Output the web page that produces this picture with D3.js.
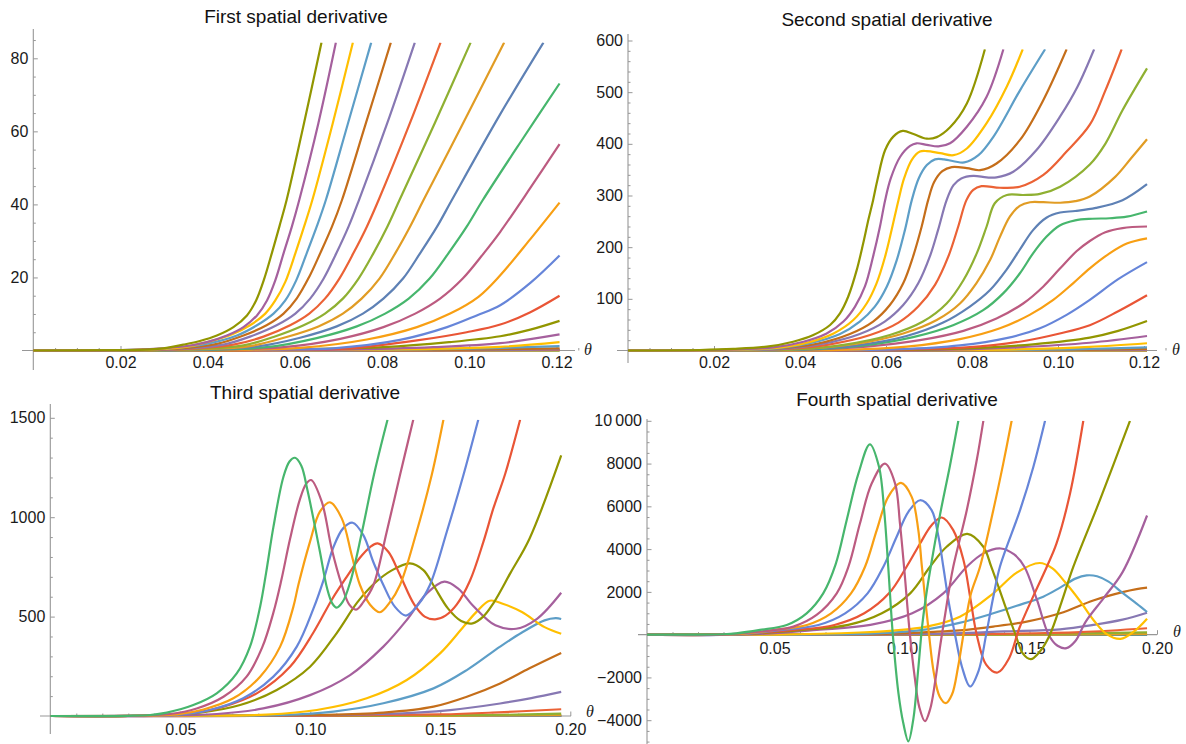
<!DOCTYPE html>
<html><head><meta charset="utf-8">
<script src="https://cdn.jsdelivr.net/npm/d3@7"></script>
<style>
html,body{margin:0;padding:0;background:#fff;}
svg{display:block;font-family:"Liberation Sans",Arial,sans-serif;}
</style></head><body>
<svg id="chart" width="1186" height="744"></svg>
<script>
// ---------------- DATA ----------------
const titles = ["First spatial derivative","Second spatial derivative","Third spatial derivative","Fourth spatial derivative"];

const p1XTicks = [0.02,0.04,0.06,0.08,0.10,0.12];
const p1YTicks = [20,40,60,80];
const p2XTicks = [0.02,0.04,0.06,0.08,0.10,0.12];
const p2YTicks = [100,200,300,400,500,600];
const p3XTicks = [0.05,0.10,0.15,0.20];
const p3YTicks = [500,1000,1500];
const p4XTicks = [0.05,0.10,0.15,0.20];
const p4YTicks = [-4000,-2000,2000,4000,6000,8000,10000];

const p1Colors = ["#929600","#A5609D","#FFBF00","#5D9EC7","#C56E1A","#8778B3","#EB6235","#8FB032","#E19C24","#5E81B5","#47B66D","#BC5B80","#F89F13","#6685D9","#E95536","#929600","#A5609D","#FFBF00","#5D9EC7","#C56E1A","#8778B3","#EB6235","#8FB032","#E19C24","#5E81B5"];
const p2Colors = p1Colors.slice();
const p3Colors = ["#47B66D","#BC5B80","#F89F13","#6685D9","#E95536","#929600","#A5609D","#FFBF00","#5D9EC7","#C56E1A","#8778B3","#EB6235","#8FB032","#E19C24","#5E81B5","#47B66D","#BC5B80","#F89F13"];
const p4Colors = p3Colors.slice();

const p1Curves = [
 [[0,0],[0.02,0.1],[0.0268,0.3],[0.0298,0.6],[0.0344,1.6],[0.0382,2.6],[0.0421,4.1],[0.0459,6.4],[0.049,9.6],[0.0511,13.7],[0.0529,19.4],[0.0547,26.6],[0.0565,34.2],[0.0581,41.2],[0.0621,62.3],[0.0661,84.3]],
 [[0,0],[0.02,0.08],[0.0344,1.1],[0.0398,2.3],[0.0444,4.1],[0.0482,6.4],[0.0513,9.6],[0.0536,13.7],[0.0555,19.2],[0.0574,26.6],[0.0593,33.9],[0.061,41.2],[0.0654,62.3],[0.0694,84.3]],
 [[0,0],[0.02,0.07],[0.0344,0.9],[0.0405,2.5],[0.0459,4.6],[0.0497,6.9],[0.0532,10.1],[0.0555,13.7],[0.0578,18.8],[0.0601,26.6],[0.0621,33.9],[0.064,41.2],[0.0687,62.3],[0.0733,84.3]],
 [[0,0],[0.02,0.06],[0.033,0.7],[0.0405,2.0],[0.0467,4.1],[0.0513,6.9],[0.0551,10.1],[0.0578,13.7],[0.0603,19.2],[0.0627,26.6],[0.065,33.9],[0.0671,41.2],[0.0722,62.3],[0.0775,84.3]],
 [[0,0],[0.02,0.05],[0.034,0.6],[0.0421,1.8],[0.0482,4.1],[0.0535,6.9],[0.0574,10.1],[0.0604,14.2],[0.0633,20.2],[0.0658,26.6],[0.0685,33.9],[0.0708,41.2],[0.0763,62.3],[0.082,84.3]],
 [[0,0],[0.02,0.04],[0.035,0.5],[0.0436,1.6],[0.0497,3.8],[0.0558,6.9],[0.0601,10.1],[0.0635,14.2],[0.0666,19.7],[0.0695,26.6],[0.0723,33.9],[0.0747,41.2],[0.0812,62.3],[0.0875,84.3]],
 [[0,0],[0.02,0.03],[0.036,0.45],[0.0459,1.6],[0.0528,3.8],[0.0589,6.9],[0.0633,10.1],[0.0669,14.2],[0.0702,19.7],[0.0734,26.6],[0.0765,33.9],[0.0792,41.2],[0.0864,62.3],[0.0934,84.3]],
 [[0,0],[0.02,0.03],[0.037,0.4],[0.0482,1.4],[0.0551,3.7],[0.062,6.9],[0.0669,10.1],[0.071,14.2],[0.0746,19.7],[0.078,26.6],[0.0812,33.9],[0.084,41.2],[0.0921,62.3],[0.1003,84.3]],
 [[0,0],[0.02,0.02],[0.038,0.35],[0.0497,1.2],[0.0581,3.7],[0.0654,6.6],[0.071,10.1],[0.0753,14.2],[0.0794,19.7],[0.083,26.6],[0.0864,33.9],[0.0895,41.2],[0.0986,62.3],[0.108,84.3]],
 [[0,0],[0.02,0.02],[0.039,0.3],[0.0513,1.1],[0.0612,3.5],[0.0696,6.6],[0.0756,10.1],[0.0803,14.2],[0.0848,19.7],[0.0887,26.6],[0.0926,33.9],[0.096,41.2],[0.107,64.5],[0.117,84.3]],
 [[0,0],[0.02,0.01],[0.04,0.25],[0.0535,0.9],[0.065,3.4],[0.0742,6.6],[0.0807,10.1],[0.0861,14.2],[0.0909,19.7],[0.0952,26.6],[0.0994,33.9],[0.1031,41.2],[0.112,57.5],[0.1207,73.1]],
 [[0,0],[0.02,0.01],[0.045,0.3],[0.0574,0.9],[0.0704,3.2],[0.0803,6.4],[0.0876,10.1],[0.0933,14.2],[0.0985,19.7],[0.1033,26.6],[0.1071,32.5],[0.114,44.5],[0.1207,56.5]],
 [[0,0],[0.02,0.01],[0.05,0.25],[0.0612,0.7],[0.0765,3.0],[0.088,6.4],[0.0956,10.1],[0.1021,14.7],[0.1071,20.6],[0.114,30.5],[0.1207,40.5]],
 [[0,0],[0.03,0.02],[0.055,0.25],[0.0688,0.6],[0.0841,2.9],[0.0949,6.4],[0.1017,9.6],[0.1071,12.4],[0.114,18.5],[0.1207,26]],
 [[0,0],[0.03,0.01],[0.06,0.2],[0.0727,0.6],[0.088,2.75],[0.0994,5.0],[0.1071,7.1],[0.114,10.5],[0.1207,15]],
 [[0,0],[0.04,0.02],[0.0803,0.9],[0.0956,2.3],[0.1071,3.9],[0.114,5.7],[0.1207,8.1]],
 [[0,0],[0.05,0.03],[0.07,0.2],[0.0918,0.9],[0.1071,2.0],[0.1207,4.4]],
 [[0,0],[0.06,0.03],[0.09,0.4],[0.1071,1.0],[0.1207,2.3]],
 [[0,0],[0.07,0.05],[0.1,0.5],[0.1207,1.2]],
 [[0,0],[0.08,0.05],[0.1,0.2],[0.1207,0.6]],
 [[0,0],[0.09,0.05],[0.1207,0.3]],
 [[0,0],[0.1,0.05],[0.1207,0.15]],
 [[0,0],[0.1207,0.06]],
 [[0,0],[0.1207,0.03]],
 [[0,0],[0.1207,0.01]]
];

const p2Curves = [
 [[0,0],[0.0167,1],[0.0245,3],[0.0323,7.5],[0.0384,17],[0.0431,30],[0.047,49.4],[0.0493,72],[0.0512,104],[0.0532,156],[0.0547,207.5],[0.0559,253],[0.057,291],[0.058,330],[0.0598,388],[0.0617,414],[0.0639,425],[0.0664,419],[0.0695,410],[0.0718,413],[0.0749,432],[0.0788,478],[0.083,583]],
 [[0,0],[0.02,1],[0.0338,6],[0.0408,17],[0.0462,33],[0.0501,56],[0.0528,85],[0.0551,124],[0.057,182],[0.0586,240],[0.0598,291],[0.0611,333],[0.0633,375],[0.0656,396],[0.0671,401],[0.0695,398],[0.0722,395],[0.0749,401],[0.0788,433],[0.0834,491],[0.0873,583]],
 [[0,0],[0.02,0.8],[0.0346,5],[0.0416,15],[0.0478,33],[0.0524,59],[0.0555,91],[0.0578,130],[0.0598,182],[0.0613,233],[0.0629,291],[0.0642,333],[0.066,369],[0.0679,385],[0.0695,386],[0.0726,382],[0.0757,378],[0.0788,391],[0.0834,440],[0.0881,511],[0.0918,583]],
 [[0,0],[0.02,0.7],[0.0346,4],[0.0423,14],[0.0493,32],[0.0539,56],[0.0574,85],[0.0602,124],[0.0625,175],[0.0644,233],[0.066,291],[0.0676,333],[0.0695,359],[0.0714,370],[0.0735,370],[0.0782,364],[0.0815,378],[0.085,414],[0.0912,504],[0.097,583]],
 [[0,0],[0.02,0.6],[0.0353,4],[0.0439,13],[0.0516,32],[0.057,56],[0.0609,88],[0.064,130],[0.0663,182],[0.0683,240],[0.0698,291],[0.0712,326],[0.0731,347],[0.0753,355],[0.0788,353],[0.0819,349],[0.0857,362],[0.0912,408],[0.0966,485],[0.102,583]],
 [[0,0],[0.02,0.5],[0.0361,3],[0.0454,13],[0.0539,32],[0.0597,56],[0.064,88],[0.0675,130],[0.0702,182],[0.0721,233],[0.0741,291],[0.0757,320],[0.0775,333],[0.0803,338],[0.0834,335],[0.0857,335],[0.0896,346],[0.095,388],[0.1005,453],[0.1045,510],[0.1084,583]],
 [[0,0],[0.02,0.4],[0.0369,3],[0.047,12],[0.0563,30],[0.0629,54],[0.0675,85],[0.0714,127],[0.0745,182],[0.0768,240],[0.0787,291],[0.0803,311],[0.0822,318],[0.0865,315],[0.0911,317],[0.0966,340],[0.102,385],[0.1074,437],[0.111,503],[0.1148,583]],
 [[0,0],[0.02,0.3],[0.0384,2],[0.0501,11],[0.0609,30],[0.0686,56],[0.0741,91],[0.078,136],[0.0811,188],[0.0834,240],[0.0853,285],[0.0881,301],[0.0919,301],[0.0958,303],[0.1005,317],[0.1074,360],[0.111,400],[0.115,465],[0.1207,546]],
 [[0,0],[0.02,0.2],[0.0408,3],[0.0532,13],[0.064,33],[0.0718,59],[0.0772,91],[0.081,130],[0.0842,175],[0.0865,220],[0.0888,259],[0.0911,280],[0.0935,287],[0.0966,287],[0.1005,286],[0.104,289],[0.1074,298],[0.1133,336],[0.117,372],[0.1207,409]],
 [[0,0],[0.02,0.15],[0.04,2],[0.0532,10],[0.0648,28],[0.0733,54],[0.0795,85],[0.0842,117],[0.088,156],[0.0911,195],[0.0942,233],[0.0973,257],[0.1005,267],[0.104,270],[0.1088,276],[0.115,291],[0.1207,322]],
 [[0,0],[0.02,0.1],[0.0415,2],[0.054,9],[0.0663,26],[0.0756,49],[0.0826,78],[0.0873,111],[0.0911,149],[0.0942,188],[0.0973,220],[0.1004,242],[0.104,252],[0.108,255],[0.112,256],[0.116,259],[0.1207,269]],
 [[0,0],[0.02,0.1],[0.0431,2],[0.0555,7.5],[0.0679,20],[0.078,38],[0.0857,62],[0.0919,91],[0.0966,124],[0.1004,158],[0.1043,192],[0.1074,212],[0.111,229],[0.115,237],[0.1207,240]],
 [[0,0],[0.03,0.2],[0.0493,1],[0.0648,7.5],[0.0772,22],[0.0865,43],[0.0934,69],[0.0989,98],[0.1035,130],[0.1074,159],[0.112,188],[0.116,207],[0.1207,217]],
 [[0,0],[0.04,0.2],[0.0632,2.5],[0.0772,10],[0.088,24],[0.0958,43],[0.102,69],[0.1074,98],[0.114,138],[0.1207,171]],
 [[0,0],[0.05,0.3],[0.0787,6],[0.0911,17],[0.1004,33],[0.1074,49],[0.114,76],[0.1207,107]],
 [[0,0],[0.06,0.5],[0.0787,4],[0.0942,12],[0.1074,25],[0.114,38],[0.1207,57]],
 [[0,0],[0.07,0.5],[0.0903,6],[0.1074,15],[0.1207,28]],
 [[0,0],[0.08,1],[0.095,3],[0.1074,7],[0.1207,14]],
 [[0,0],[0.09,1],[0.1074,3],[0.1207,6]],
 [[0,0],[0.1,0.8],[0.1207,3]],
 [[0,0],[0.1207,1.5]],
 [[0,0],[0.1207,0.7]],
 [[0,0],[0.1207,0.3]],
 [[0,0],[0.1207,0.1]],
 [[0,0],[0.1207,0.05]]
];

const p3Curves = [
 [[0,0],[0.03,1],[0.0384,5],[0.0448,17],[0.055,55],[0.064,114],[0.0717,214],[0.0768,349],[0.0807,550],[0.083,720],[0.0858,950],[0.0896,1200],[0.092,1280],[0.0941,1299],[0.0965,1260],[0.099,1130],[0.1035,840],[0.1065,640],[0.1085,565],[0.1101,545],[0.1125,575],[0.1155,680],[0.1197,915],[0.1245,1215],[0.1297,1490]],
 [[0,0],[0.03,0.5],[0.046,10],[0.0563,38],[0.0666,97],[0.0755,198],[0.0815,345],[0.0858,520],[0.0888,680],[0.0922,890],[0.096,1090],[0.0985,1170],[0.1003,1187],[0.1044,1078],[0.1082,843],[0.1121,659],[0.115,560],[0.1176,535],[0.1205,575],[0.1243,659],[0.1294,927],[0.1345,1212],[0.1396,1490]],
 [[0,0],[0.03,0.3],[0.0486,8],[0.0589,33],[0.0704,89],[0.0807,198],[0.0884,349],[0.0935,550],[0.0954,659],[0.0999,877],[0.1037,1028],[0.1076,1075],[0.1121,994],[0.1159,810],[0.1191,659],[0.123,560],[0.1268,522],[0.1305,570],[0.1345,659],[0.1409,927],[0.1467,1212],[0.1512,1490]],
 [[0,0],[0.03,0.2],[0.0499,7],[0.0614,30],[0.0742,89],[0.0858,198],[0.0948,349],[0.1012,540],[0.105,680],[0.1089,850],[0.1127,945],[0.1163,972],[0.1204,910],[0.1242,776],[0.1281,659],[0.1325,550],[0.1368,505],[0.1415,560],[0.146,659],[0.1525,927],[0.1589,1212],[0.1646,1490]],
 [[0,0],[0.03,0.1],[0.0537,13],[0.0666,47],[0.0794,114],[0.0922,248],[0.1012,420],[0.1085,590],[0.114,700],[0.119,795],[0.123,850],[0.1259,868],[0.13,826],[0.1345,709],[0.14,560],[0.144,500],[0.148,486],[0.152,505],[0.1563,560],[0.1614,680],[0.1666,877],[0.1704,1044],[0.175,1220],[0.1807,1490]],
 [[0,0],[0.03,0.1],[0.0576,17],[0.073,55],[0.0871,131],[0.0999,248],[0.1101,416],[0.118,570],[0.1245,665],[0.131,730],[0.1383,768],[0.1435,734],[0.1473,659],[0.153,540],[0.158,478],[0.1624,466],[0.1665,500],[0.1704,567],[0.177,720],[0.1843,892],[0.1965,1311]],
 [[0,0],[0.04,1],[0.064,10],[0.0819,38],[0.0999,105],[0.1153,206],[0.1281,349],[0.1371,483],[0.1448,617],[0.1516,676],[0.157,640],[0.1625,556],[0.1712,456],[0.1792,439],[0.1872,489],[0.1965,620]],
 [[0,0],[0.05,1],[0.0832,7],[0.1025,30],[0.1217,89],[0.1371,181],[0.1499,315],[0.1589,449],[0.164,525],[0.169,580],[0.174,565],[0.1814,523],[0.1901,447],[0.1965,414]],
 [[0,0],[0.06,1],[0.0896,5],[0.1089,22],[0.1281,64],[0.1474,139],[0.1602,231],[0.173,349],[0.1814,420],[0.1901,481],[0.1944,492],[0.1965,488]],
 [[0,0],[0.06,1],[0.1025,5],[0.1281,17],[0.1474,47],[0.1602,97],[0.173,164],[0.1843,240],[0.1965,317]],
 [[0,0],[0.08,1],[0.1281,10],[0.1538,30],[0.173,63],[0.185,90],[0.1965,121]],
 [[0,0],[0.1,1],[0.15,8],[0.17,17],[0.1965,34]],
 [[0,0],[0.12,1],[0.17,5],[0.1965,12]],
 [[0,0],[0.15,1],[0.1965,4]],
 [[0,0],[0.1965,1]],
 [[0,0],[0.1965,0.4]],
 [[0,0],[0.1965,0.2]],
 [[0,0],[0.1965,0.1]]
];

const p4Curves = [
 [[0,0],[0.03,20],[0.035,60],[0.0443,220],[0.0548,454],[0.0626,998],[0.0691,1931],[0.074,3300],[0.0783,5354],[0.0829,7530],[0.0874,8899],[0.091,7842],[0.093,5820],[0.0946,3177],[0.0964,0],[0.0986,-2734],[0.1005,-4134],[0.1025,-4989],[0.1045,-3900],[0.1063,-1700],[0.108,500],[0.1098,2100],[0.1116,3400],[0.1149,5600],[0.1188,7900],[0.1221,10000]],
 [[0,0],[0.03,5],[0.0469,174],[0.0574,376],[0.0665,920],[0.0744,1931],[0.079,3177],[0.0835,5198],[0.0881,7064],[0.0933,7997],[0.0973,7064],[0.0992,5198],[0.1008,3177],[0.1031,0],[0.105,-2000],[0.1068,-3400],[0.109,-4050],[0.111,-3500],[0.113,-2200],[0.115,-500],[0.117,1000],[0.1186,2200],[0.1201,3177],[0.1254,5820],[0.1293,8153],[0.1319,10000]],
 [[0,0],[0.035,20],[0.05,220],[0.0627,454],[0.0722,998],[0.08,1931],[0.0855,3177],[0.0901,4887],[0.0946,6442],[0.0996,7095],[0.1038,6442],[0.1064,4887],[0.1078,3177],[0.1106,0],[0.1125,-1800],[0.1148,-2900],[0.1172,-3201],[0.1196,-2800],[0.122,-1500],[0.1245,300],[0.127,1900],[0.1306,3177],[0.1358,5820],[0.1397,7997],[0.143,10000]],
 [[0,0],[0.035,10],[0.053,220],[0.0672,454],[0.0777,998],[0.0865,1931],[0.0927,3177],[0.0979,4576],[0.1025,5743],[0.1071,6286],[0.1116,5820],[0.1143,4576],[0.1162,3177],[0.1185,1400],[0.1208,0],[0.1235,-1500],[0.1267,-2423],[0.13,-1700],[0.133,0],[0.1357,1700],[0.1384,3177],[0.1463,5820],[0.1515,7842],[0.1561,10000]],
 [[0,0],[0.033,10],[0.0577,220],[0.0735,454],[0.0852,998],[0.0949,1931],[0.1018,3177],[0.1071,4265],[0.1116,5120],[0.1156,5478],[0.1201,4887],[0.1241,3487],[0.1268,1700],[0.1293,0],[0.133,-1400],[0.1375,-1770],[0.142,-1100],[0.146,300],[0.1515,1800],[0.1568,3177],[0.1606,4265],[0.1659,6598],[0.1711,10000]],
 [[0,0],[0.035,10],[0.061,220],[0.0789,454],[0.0921,998],[0.1032,1931],[0.111,3177],[0.1175,4110],[0.1256,4713],[0.1319,4110],[0.135,3177],[0.14,1500],[0.1445,0],[0.1475,-900],[0.1505,-1148],[0.154,-800],[0.158,0],[0.1625,1500],[0.1672,3177],[0.1776,6287],[0.1894,10000]],
 [[0,0],[0.04,10],[0.0666,220],[0.0876,454],[0.104,998],[0.1162,1931],[0.1254,3177],[0.1319,3800],[0.1387,4030],[0.144,3750],[0.148,3177],[0.153,1600],[0.1575,0],[0.161,-520],[0.1645,-630],[0.168,-300],[0.172,600],[0.179,1700],[0.1865,2925],[0.1961,5571]],
 [[0,0],[0.05,3],[0.0835,100],[0.0966,190],[0.1097,376],[0.1227,842],[0.1358,1931],[0.145,2900],[0.154,3350],[0.159,3100],[0.164,2450],[0.1698,1575],[0.175,700],[0.18,50],[0.1857,-200],[0.191,150],[0.1961,747]],
 [[0,0],[0.06,5],[0.09,60],[0.1097,250],[0.1225,550],[0.1358,998],[0.145,1350],[0.1554,1776],[0.162,2200],[0.168,2620],[0.1724,2772],[0.1765,2730],[0.181,2480],[0.1865,1950],[0.192,1450],[0.1961,1059]],
 [[0,0],[0.08,10],[0.1,60],[0.1097,120],[0.1227,200],[0.1358,376],[0.1489,609],[0.162,998],[0.175,1600],[0.1865,1990],[0.192,2130],[0.1961,2200]],
 [[0,0],[0.09,10],[0.12,60],[0.14,150],[0.162,250],[0.175,454],[0.1865,700],[0.1961,1027]],
 [[0,0],[0.1,10],[0.14,40],[0.17,120],[0.1961,300]],
 [[0,0],[0.14,10],[0.1961,110]],
 [[0,0],[0.16,5],[0.1961,40]],
 [[0,0],[0.1961,12]],
 [[0,0],[0.1961,4]],
 [[0,0],[0.1961,2]],
 [[0,0],[0.1961,1]]
];

// ---------------- DRAWING ----------------
const svg = d3.select("#chart");
const AXIS = "#979797", TEXT = "#1a1a1a";

function fmtP4(d){ if (d === 10000) return "10\u2009000"; return d < 0 ? "\u2212" + Math.abs(d) : String(d); }

const panels = [
 {title:titles[0], tx:296, ty:23, curves:p1Curves, colors:p1Colors,
  xDomain:[0,0.12], xRange:[33.3,556.5], yDomain:[0,80], yRange:[350.5,58.3],
  xTicks:p1XTicks, yTicks:p1YTicks, xMinorStep:0.005, yMinorStep:5, xMinorMax:0.125, yMinorMin:5, yMinorMax:85,
  xLine:[22,575], yLine:[29,370], clipTop:84.3, xEnd:0.1207, xFmt:d3.format(".2f"), yFmt:d3.format("d"), theta:[588,349], xPad:6},
 {title:titles[1], tx:887, ty:26, curves:p2Curves, colors:p2Colors,
  xDomain:[0,0.12], xRange:[628,1144], yDomain:[0,600], yRange:[350.5,40.5],
  xTicks:p2XTicks, yTicks:p2YTicks, xMinorStep:0.005, yMinorStep:20, xMinorMax:0.125, yMinorMin:20, yMinorMax:600,
  xLine:[617,1157], yLine:[34,363], clipTop:583, xEnd:0.1207, xFmt:d3.format(".2f"), yFmt:d3.format("d"), theta:[1176,349], xPad:6},
 {title:titles[2], tx:305, ty:399, curves:p3Curves, colors:p3Colors,
  xDomain:[0,0.2], xRange:[50.3,570.3], yDomain:[0,1500], yRange:[716,417.8],
  xTicks:p3XTicks, yTicks:p3YTicks, xMinorStep:0.01, yMinorStep:100, xMinorMax:0.2, yMinorMin:100, yMinorMax:1500,
  xLine:[40,571], yLine:[404,734], clipTop:1490, xEnd:0.1965, xFmt:d3.format(".2f"), yFmt:d3.format("d"), theta:[590,711], xPad:8},
 {title:titles[3], tx:897, ty:406, curves:p4Curves, colors:p4Colors,
  xDomain:[0,0.2], xRange:[647,1157], yDomain:[-4000,10000], yRange:[720.2,420.8],
  xTicks:p4XTicks, yTicks:p4YTicks, xMinorStep:0.01, yMinorStep:500, xMinorMax:0.2, yMinorMin:-5000, yMinorMax:10000,
  xLine:[638,1157], yLine:[419,744], clipTop:10000, xEnd:0.1961, xFmt:d3.format(".2f"), yFmt:fmtP4, theta:[1177,631], xPad:8}
];

panels.forEach((p, i) => {
  const x = d3.scaleLinear().domain(p.xDomain).range(p.xRange);
  const y = d3.scaleLinear().domain(p.yDomain).range(p.yRange);
  const g = svg.append("g");
  const y0 = y(0), x0 = x(0);

  g.append("line").attr("x1", p.xLine[0]).attr("x2", p.xLine[1]).attr("y1", y0).attr("y2", y0)
    .attr("stroke", AXIS).attr("stroke-width", 1.1);
  g.append("line").attr("x1", x0).attr("x2", x0).attr("y1", p.yLine[0]).attr("y2", p.yLine[1])
    .attr("stroke", AXIS).attr("stroke-width", 1.1);

  const xMin = d3.range(p.xMinorStep, p.xMinorMax + 1e-9, p.xMinorStep)
    .filter(v => !p.xTicks.some(t => Math.abs(t - v) < 1e-9));
  const yMin = d3.range(p.yMinorMin, p.yMinorMax + 1e-9, p.yMinorStep)
    .filter(v => v !== 0 && !p.yTicks.some(t => Math.abs(t - v) < 1e-9));

  const gxm = g.append("g").attr("transform", `translate(0,${y0})`)
    .call(d3.axisBottom(x).tickValues(xMin).tickSize(-2.5).tickFormat(""));
  const gym = g.append("g").attr("transform", `translate(${x0},0)`)
    .call(d3.axisLeft(y).tickValues(yMin).tickSize(-2.5).tickFormat(""));
  const gx = g.append("g").attr("transform", `translate(0,${y0})`)
    .call(d3.axisBottom(x).tickValues(p.xTicks).tickSize(-4.5).tickPadding(p.xPad).tickFormat(p.xFmt));
  const gy = g.append("g").attr("transform", `translate(${x0},0)`)
    .call(d3.axisLeft(y).tickValues(p.yTicks).tickSize(-4.5).tickPadding(5).tickFormat(p.yFmt));
  [gxm, gym, gx, gy].forEach(a => {
    a.select(".domain").remove();
    a.selectAll(".tick line").attr("stroke", AXIS);
    a.attr("font-family", null).attr("font-size", null);
    a.selectAll("text").attr("fill", TEXT).style("font-size", "16px")
      .style("font-family", "'Liberation Sans', Arial, sans-serif");
  });

  g.append("text").attr("x", p.theta[0]).attr("y", p.theta[1]).attr("dy", "0.35em")
    .attr("text-anchor", "middle").attr("fill", TEXT)
    .style("font-size", "16px").style("font-style", "italic")
    .style("font-family", "'Liberation Serif', 'DejaVu Serif', serif").text("\u03B8");

  g.append("text").attr("x", p.tx).attr("y", p.ty).attr("text-anchor", "middle").attr("fill", "#111")
    .style("font-size", "19px").text(p.title);

  const cid = "clip" + i;
  g.append("clipPath").attr("id", cid).append("rect")
    .attr("x", x0 - 1).attr("y", y(p.clipTop))
    .attr("width", x(p.xEnd) - x0 + 3).attr("height", 744 - y(p.clipTop));

  const line = d3.line().x(d => x(d[0])).y(d => y(d[1])).curve(d3.curveCatmullRom.alpha(0.5));
  const cg = g.append("g").attr("clip-path", `url(#${cid})`);
  d3.range(p.curves.length).reverse().forEach(k => {
    cg.append("path").datum(p.curves[k]).attr("d", line)
      .attr("fill", "none").attr("stroke", p.colors[k]).attr("stroke-width", 2.2)
      .attr("stroke-linejoin", "round");
  });
});
</script></body></html>
